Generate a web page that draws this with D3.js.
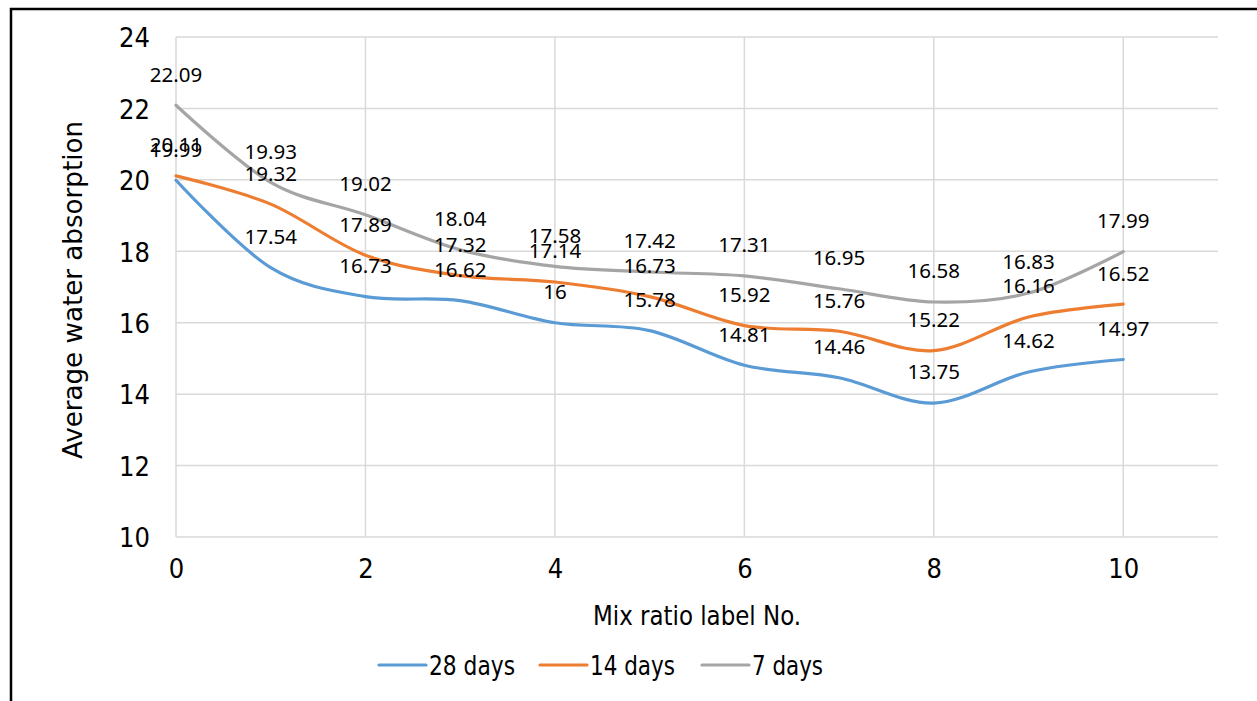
<!DOCTYPE html>
<html>
<head>
<meta charset="utf-8">
<script src="https://cdn.jsdelivr.net/npm/d3@7"></script>
<style>
  body { margin: 0; background: #fff; }
  svg { display: block; }
</style>
</head>
<body>
<svg id="chart" width="1257" height="701"></svg>
<script>
// mix ratio label numbers
var mixNo = [0, 1, 2, 3, 4, 5, 6, 7, 8, 9, 10];
var days28 = [19.99, 17.54, 16.73, 16.62, 16, 15.78, 14.81, 14.46, 13.75, 14.62, 14.97];
var days14 = [20.11, 19.32, 17.89, 17.32, 17.14, 16.73, 15.92, 15.76, 15.22, 16.16, 16.52];
var days7 = [22.09, 19.93, 19.02, 18.04, 17.58, 17.42, 17.31, 16.95, 16.58, 16.83, 17.99];
var seriesNames = ["28 days", "14 days", "7 days"];
var xTicks = [0, 2, 4, 6, 8, 10];
var yTicks = [10, 12, 14, 16, 18, 20, 22, 24];

var colors = ["#5B9BD5", "#ED7D31", "#A5A5A5"];
var series = [days28, days14, days7];
var axisFont = "'DejaVu Sans Condensed', 'DejaVu Sans', sans-serif";
var labelFont = "'Noto Sans', 'Open Sans', sans-serif";

var svg = d3.select("#chart");

// outer frame (right / bottom edges fall off the picture)
svg.append("rect")
    .attr("x", 11).attr("y", 9)
    .attr("width", 1270).attr("height", 720)
    .attr("fill", "none")
    .attr("stroke", "#000")
    .attr("stroke-width", 2.5);

var x = d3.scaleLinear().domain([0, 11]).range([176, 1218]);
var y = d3.scaleLinear().domain([10, 24]).range([537, 37]);

// gridlines
svg.append("g").selectAll("line")
    .data(yTicks)
    .enter().append("line")
    .attr("x1", x(0)).attr("x2", x(11))
    .attr("y1", function (d) {return y(d);})
    .attr("y2", function (d) {return y(d);})
    .attr("stroke", "#D9D9D9")
    .attr("stroke-width", 1.5);
svg.append("g").selectAll("line")
    .data(xTicks)
    .enter().append("line")
    .attr("x1", function (d) {return x(d);})
    .attr("x2", function (d) {return x(d);})
    .attr("y1", y(10)).attr("y2", y(24))
    .attr("stroke", "#D9D9D9")
    .attr("stroke-width", 1.5);

// axes, only the tick labels are shown
var yAxis = svg.append("g")
    .attr("transform", "translate(" + (x(0) - 26) + ",0)")
    .call(d3.axisLeft(y).tickValues(yTicks).tickSize(0).tickPadding(0));
var xAxis = svg.append("g")
    .attr("transform", "translate(0," + (y(10) + 22) + ")")
    .call(d3.axisBottom(x).tickValues(xTicks).tickSize(0).tickPadding(0));
[yAxis, xAxis].forEach(function (ax) {
    ax.select(".domain").remove();
    ax.selectAll("text")
        .style("font-family", axisFont)
        .style("font-size", "27px")
        .attr("fill", "#000");
});
xAxis.selectAll("text").attr("dy", "0.72em");
yAxis.selectAll("text").attr("dy", "0.36em");

// smooth lines
var line = d3.line()
    .x(function (d, i) {return x(mixNo[i]);})
    .y(function (d) {return y(d);})
    .curve(d3.curveCatmullRom.alpha(0));

svg.append("g").selectAll("path")
    .data(series)
    .enter().append("path")
    .attr("d", line)
    .attr("fill", "none")
    .attr("stroke", function (d, i) {return colors[i];})
    .attr("stroke-width", 3.2)
    .attr("stroke-linecap", "round");

// data labels above each point
series.forEach(function (vals) {
    svg.append("g").selectAll("text")
        .data(vals)
        .enter().append("text")
        .attr("x", function (d, i) {return x(mixNo[i]);})
        .attr("y", function (d) {return y(d) - 31;})
        .attr("dy", "0.36em")
        .attr("text-anchor", "middle")
        .style("font-family", labelFont)
        .style("font-size", "20.5px")
        .attr("fill", "#000")
        .text(function (d) {return d;});
});

// axis titles
svg.append("text")
    .attr("x", 697).attr("y", 615)
    .attr("dy", "0.36em")
    .attr("text-anchor", "middle")
    .attr("textLength", 208)
    .attr("lengthAdjust", "spacingAndGlyphs")
    .style("font-family", axisFont)
    .style("font-size", "27px")
    .text("Mix ratio label No.");

svg.append("text")
    .attr("transform", "translate(72,290) rotate(-90)")
    .attr("dy", "0.36em")
    .attr("text-anchor", "middle")
    .attr("textLength", 338)
    .attr("lengthAdjust", "spacingAndGlyphs")
    .style("font-family", axisFont)
    .style("font-size", "27px")
    .text("Average water absorption");

// legend
var legendX = [379, 540, 702];
var legendW = [86, 85, 71];
var legend = svg.append("g").selectAll("g")
    .data(seriesNames)
    .enter().append("g")
    .attr("transform", function (d, i) {
        return "translate(" + legendX[i] + ",665)";
    });
legend.append("line")
    .attr("x1", 0).attr("x2", 47)
    .attr("y1", 0).attr("y2", 0)
    .attr("stroke", function (d, i) {return colors[i];})
    .attr("stroke-width", 3.2)
    .attr("stroke-linecap", "round");
legend.append("text")
    .attr("x", 50).attr("y", 0)
    .attr("dy", "0.36em")
    .attr("textLength", function (d, i) {return legendW[i];})
    .attr("lengthAdjust", "spacingAndGlyphs")
    .style("font-family", axisFont)
    .style("font-size", "27px")
    .text(function (d) {return d;});
</script>
</body>
</html>
